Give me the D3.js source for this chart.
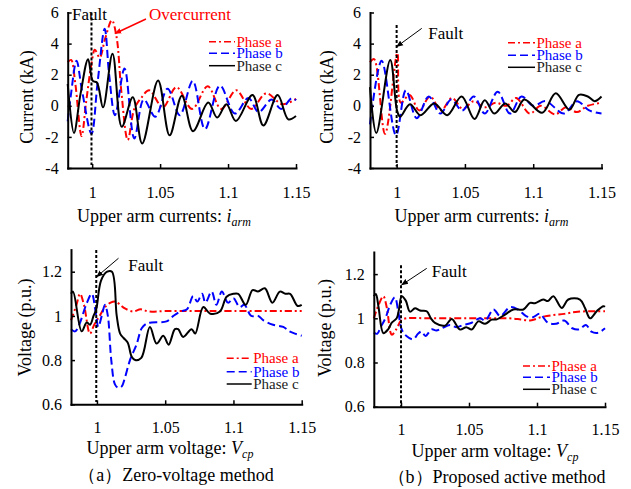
<!DOCTYPE html>
<html>
<head>
<meta charset="utf-8">
<script src="https://cdn.jsdelivr.net/npm/d3@7"></script>
<style>
body { margin: 0; background: #fff; }
svg { font-family: "Liberation Serif", "Times New Roman", serif; }
</style>
</head>
<body>
<div class="chart"></div>
<script>
// ticks
const timeTicks = [1, 1.05, 1.1, 1.15];
const currentTicks = [-4, -2, 0, 2, 4, 6];
const voltageTicks = [0.6, 0.8, 1, 1.2];
const phaseNames = ['Phase a', 'Phase b', 'Phase c'];

// (a) zero-voltage method, upper arm currents [time s, kA]
const zvCurA = [[0.982,2.8],[0.9845,2.95],[0.9875,1.5],[0.9922,-1.95],[0.9955,0.2],[0.9995,2.7],[1.002,3.6],[1.0055,3.1],[1.0095,4.3],[1.0145,5.5],[1.018,4.4],[1.0215,0.9],[1.0262,-2.2],[1.031,-0.2],[1.036,0.5],[1.042,1.0],[1.052,-0.1],[1.062,1.2],[1.0735,-0.2],[1.085,1.25],[1.095,-0.2],[1.106,1.0],[1.117,-0.2],[1.128,0.8],[1.14,0.1],[1.15,0.45]];
const zvCurB = [[0.982,-1.0],[0.9845,0.8],[0.9885,2.9],[0.9925,1.0],[0.9995,-1.8],[1.004,1.5],[1.0092,4.95],[1.0125,2.0],[1.0168,-0.6],[1.0238,2.4],[1.031,-2.1],[1.038,0.4],[1.0465,-0.7],[1.0555,1.1],[1.0645,-0.6],[1.074,1.6],[1.083,-1.5],[1.094,1.3],[1.105,-0.5],[1.115,0.5],[1.1225,-0.4],[1.132,0.4],[1.139,-0.2],[1.147,0.5],[1.15,0.35]];
const zvCurC = [[0.982,1.4],[0.9866,-1.75],[0.9915,0.8],[0.997,3.0],[1.0005,1.6],[1.0035,1.5],[1.008,-0.1],[1.015,3.35],[1.0218,-1.35],[1.0299,0.55],[1.0368,-2.42],[1.0485,1.62],[1.057,-1.9],[1.066,0.65],[1.0742,-1.63],[1.0854,0.21],[1.092,-0.76],[1.0988,0.1],[1.1058,-0.98],[1.118,0.69],[1.126,-1.26],[1.1365,0.69],[1.1443,-0.87],[1.15,-0.66]];

// (b) proposed active method, upper arm currents
const pmCurA = [[0.9805,2.8],[0.9835,3.0],[0.9915,-1.8],[1.0005,3.4],[1.003,0.2],[1.0095,0.7],[1.0165,-0.3],[1.0245,0.6],[1.0325,-0.3],[1.0405,0.5],[1.0485,-0.2],[1.0565,0.3],[1.0645,-0.1],[1.0725,0.2],[1.0805,0.0],[1.0875,0.5],[1.0975,-0.5],[1.1055,0.0],[1.116,-0.55],[1.124,-0.1],[1.132,-0.4],[1.14,0.0],[1.15,0.2]];
const pmCurB = [[0.9805,-1.2],[0.989,2.9],[0.9995,-1.9],[1.0068,1.0],[1.0147,-0.8],[1.0235,0.6],[1.032,-0.5],[1.04,0.4],[1.048,-0.3],[1.0565,0.6],[1.0645,-0.5],[1.074,0.9],[1.083,-0.5],[1.0915,0.6],[1.1,0.0],[1.109,0.3],[1.1225,-0.5],[1.132,0.3],[1.141,-0.3],[1.15,-0.5]];
const pmCurC = [[0.9805,1.2],[0.9851,-1.75],[0.9953,2.95],[1.0003,-0.3],[1.0025,-0.7],[1.0098,0.1],[1.0175,-0.6],[1.0275,0.15],[1.037,-0.6],[1.0476,0.6],[1.057,-0.85],[1.0645,0.35],[1.0715,-0.5],[1.0795,0.15],[1.0866,-0.4],[1.0935,0.4],[1.1065,-0.45],[1.1165,0.8],[1.1265,-0.25],[1.1335,0.7],[1.14,0.6],[1.145,0.3],[1.15,0.6]];

// (a) zero-voltage method, upper arm voltage [time s, p.u.]
const zvVolA = [[0.981,0.98],[0.985,1.05],[0.9876,1.1],[0.9905,1.05],[0.9949,0.92],[0.998,0.96],[1.002,1.0],[1.006,1.04],[1.01,1.06],[1.0135,1.065],[1.017,1.05],[1.0205,1.034],[1.0266,1.02],[1.032,1.03],[1.038,1.02],[1.05,1.022],[1.07,1.022],[1.1,1.022],[1.15,1.022]];
const zvVolB = [[0.981,0.94],[0.984,0.93],[0.987,0.96],[0.9925,1.057],[0.9962,1.1],[0.999,1.02],[1.001,0.95],[1.0035,1.0],[1.0059,1.05],[1.008,1.0],[1.0105,0.8],[1.0132,0.69],[1.0155,0.675],[1.018,0.68],[1.0205,0.72],[1.0242,0.8],[1.029,0.87],[1.0328,0.944],[1.0364,0.965],[1.04,0.97],[1.051,0.975],[1.056,1.0],[1.061,1.02],[1.066,1.03],[1.0705,1.09],[1.0735,1.065],[1.077,1.1],[1.0795,1.06],[1.084,1.11],[1.0875,1.05],[1.0915,1.11],[1.096,1.06],[1.1,1.08],[1.1045,1.04],[1.108,1.05],[1.113,1.0],[1.118,1.0],[1.122,0.98],[1.129,0.96],[1.1365,0.95],[1.141,0.93],[1.145,0.92],[1.15,0.91]];
const zvVolC = [[0.981,1.1],[0.9825,1.11],[0.9888,0.93],[0.9925,0.97],[0.995,0.96],[0.9975,1.0],[0.9995,1.03],[1.003,1.16],[1.0075,1.2],[1.011,1.2],[1.0145,1.0],[1.017,0.92],[1.0195,0.9],[1.0225,0.88],[1.0255,0.815],[1.028,0.8],[1.0325,0.81],[1.0388,0.95],[1.0437,0.875],[1.0486,0.91],[1.0525,0.87],[1.0571,0.94],[1.0595,0.94],[1.0632,0.905],[1.0693,0.94],[1.072,0.92],[1.0779,1.04],[1.083,1.01],[1.0901,1.02],[1.095,1.087],[1.1,1.1],[1.1035,1.1],[1.109,1.05],[1.114,1.117],[1.118,1.11],[1.123,1.125],[1.1285,1.06],[1.134,1.11],[1.138,1.1],[1.1415,1.1],[1.147,1.045],[1.15,1.05]];

// (b) proposed active method, upper arm voltage
const pmVolA = [[0.98,1.0],[0.9835,1.06],[0.987,1.1],[0.9895,1.05],[0.9932,0.926],[0.9965,0.95],[1.0,0.99],[1.004,1.0],[1.02,1.0],[1.04,1.0],[1.06,1.0],[1.08,1.0],[1.088,0.995],[1.095,0.99],[1.103,1.005],[1.112,1.015],[1.12,1.02],[1.13,1.03],[1.15,1.032]];
const pmVolB = [[0.98,0.935],[0.9825,0.93],[0.985,0.96],[0.9885,1.0],[0.992,1.06],[0.9955,1.095],[0.998,1.03],[1.0005,0.95],[1.004,0.92],[1.009,0.905],[1.0125,0.93],[1.0152,0.94],[1.018,0.92],[1.0225,0.95],[1.026,0.945],[1.03,0.955],[1.036,0.97],[1.0405,0.96],[1.046,0.97],[1.052,0.98],[1.058,1.0],[1.062,0.99],[1.068,1.04],[1.073,1.01],[1.08,1.05],[1.086,1.04],[1.092,1.01],[1.097,1.005],[1.102,1.02],[1.108,0.98],[1.114,0.975],[1.12,0.99],[1.126,0.955],[1.131,0.95],[1.136,0.97],[1.14,0.94],[1.145,0.935],[1.15,0.955]];
const pmVolC = [[0.98,1.1],[0.9815,1.11],[0.9835,1.05],[0.987,0.933],[0.9905,0.95],[0.9932,0.98],[0.9968,1.0],[0.9985,1.04],[1.0005,1.1],[1.0035,1.08],[1.0066,1.03],[1.0103,1.045],[1.014,1.035],[1.0189,1.032],[1.022,1.0],[1.025,0.979],[1.0324,0.967],[1.0373,0.997],[1.0434,0.949],[1.048,0.96],[1.052,0.949],[1.0569,0.986],[1.0618,0.975],[1.0667,0.994],[1.0704,0.995],[1.0765,1.017],[1.0826,1.04],[1.09,1.04],[1.0949,1.07],[1.0985,1.068],[1.1046,1.085],[1.108,1.078],[1.112,1.1],[1.1182,1.047],[1.123,1.085],[1.1316,1.085],[1.1353,1.047],[1.139,1.0],[1.1439,1.032],[1.1488,1.055],[1.15,1.052]];

const colors = ['#ff0000', '#0000ff', '#000000'];
const textColors = ['#ff0000', '#0000ff', '#222222'];
const dashes = ['7,3,2,3', '8,4', null];

const svg = d3.select('.chart').append('svg')
    .attr('width', 631)
    .attr('height', 489);

// layout of the four panels
const panels = [
  { series: [zvCurA, zvCurB, zvCurC], xr: [67.7, 296], xd: [0.982, 1.15], yr: [168, 12.5], yd: [-4, 6],
    yticks: currentTicks, ylabel: 'Current (kA)', ylx: 33, yly: 97, tpad: 19,
    xlabel: ['Upper arm currents: ', 'i', 'arm'], xlx: 164, xly: 222,
    legend: { x0: 209, x1: 235, ty: [41.7, 53.3, 65.7] },
    fault: { t: 0.9995, v0: 6, v1: -3.8 },
    notes: [{ text: 'Fault', t: 0.9852, v: 5.54, color: '#000' },
            { text: 'Overcurrent', t: 1.0418, v: 5.54, color: '#ff0000' }],
    arrows: [{ from: [1.0396, 5.58], to: [1.0168, 4.65], color: '#ff0000', w: 1.5 }] },
  { series: [pmCurA, pmCurB, pmCurC], xr: [370, 601.5], xd: [0.9805, 1.15], yr: [168, 12.5], yd: [-4, 6],
    yticks: currentTicks, ylabel: 'Current (kA)', ylx: 333, yly: 97, tpad: 19,
    xlabel: ['Upper arm currents: ', 'i', 'arm'], xlx: 481.5, xly: 222,
    legend: { x0: 508, x1: 535, ty: [42.7, 55.3, 67.3] },
    fault: { t: 1.0, v0: 5.2, v1: -3.9 },
    notes: [{ text: 'Fault', t: 1.0232, v: 4.3, color: '#000' }],
    arrows: [{ from: [1.0184, 4.98], to: [1.0, 3.8], color: '#000', w: 1 }] },
  { series: [zvVolA, zvVolB, zvVolC], xr: [71, 301.7], xd: [0.981, 1.15], yr: [404.3, 249.6], yd: [0.6, 1.3],
    yticks: voltageTicks, ylabel: 'Voltage (p.u.)', ylx: 31, yly: 327.5, tpad: 17,
    xlabel: ['Upper arm voltage: ', 'V', 'cp'], xlx: 170, xly: 454,
    legend: { x0: 226.7, x1: 251.7, ty: [358.3, 371.7, 384] },
    fault: { t: 0.9995, v0: 1.298, v1: 0.61 },
    notes: [{ text: 'Fault', t: 1.023, v: 1.205, color: '#000' }],
    arrows: [{ from: [1.0158, 1.261], to: [0.9998, 1.177], color: '#000', w: 1 }],
    caption: '（a）Zero-voltage method', cx: 176, cy: 481 },
  { series: [pmVolA, pmVolB, pmVolC], xr: [373.8, 605], xd: [0.98, 1.15], yr: [406.7, 252], yd: [0.6, 1.3],
    yticks: voltageTicks, ylabel: 'Voltage (p.u.)', ylx: 331, yly: 328, tpad: 17,
    xlabel: ['Upper arm voltage: ', 'V', 'cp'], xlx: 495, xly: 457,
    legend: { x0: 523, x1: 550, ty: [366, 377.3, 389.3] },
    fault: { t: 1.0, v0: 1.24, v1: 0.6 },
    notes: [{ text: 'Fault', t: 1.0226, v: 1.187, color: '#000' }],
    arrows: [{ from: [1.0189, 1.226], to: [1.0005, 1.151], color: '#000', w: 1 }],
    caption: '（b）Proposed active method', cx: 496.5, cy: 483 }
];

const defs = svg.append('defs');
['#000', '#ff0000'].forEach((c, i) => {
  defs.append('marker')
    .attr('id', 'head' + i)
    .attr('viewBox', '0 0 10 10')
    .attr('refX', 9).attr('refY', 5)
    .attr('markerWidth', 7).attr('markerHeight', 7)
    .attr('markerUnits', 'userSpaceOnUse')
    .attr('orient', 'auto')
    .append('path')
    .attr('d', 'M0,1 L10,5 L0,9 z')
    .attr('fill', c);
});

panels.forEach(p => {
  const x = d3.scaleLinear().domain(p.xd).range(p.xr);
  const y = d3.scaleLinear().domain(p.yd).range(p.yr);
  const g = svg.append('g');

  const line = d3.line()
    .x(d => x(d[0]))
    .y(d => y(d[1]))
    .curve(d3.curveCatmullRom.alpha(0.5));

  p.series.forEach((s, i) => {
    g.append('path')
      .datum(s)
      .attr('d', line)
      .attr('fill', 'none')
      .attr('stroke', colors[i])
      .attr('stroke-width', 2)
      .attr('stroke-dasharray', dashes[i]);
  });

  // fault instant
  g.append('line')
    .attr('x1', x(p.fault.t)).attr('x2', x(p.fault.t))
    .attr('y1', y(p.fault.v0)).attr('y2', y(p.fault.v1))
    .attr('stroke', '#000')
    .attr('stroke-width', 2)
    .attr('stroke-dasharray', '3,2');

  const xAxis = g.append('g')
    .attr('transform', `translate(0,${p.yr[0]})`)
    .call(d3.axisBottom(x).tickValues(timeTicks).tickFormat(d => String(d))
      .tickSizeInner(-4).tickSizeOuter(0).tickPadding(p.tpad));
  const yAxis = g.append('g')
    .attr('transform', `translate(${p.xr[0]},0)`)
    .call(d3.axisLeft(y).tickValues(p.yticks).tickFormat(d => String(d))
      .tickSizeInner(-4).tickSizeOuter(0).tickPadding(9));
  [xAxis, yAxis].forEach(a => {
    a.attr('font-family', null).attr('font-size', 16);
    a.select('.domain').attr('stroke-width', 2).attr('stroke-linecap', 'square');
    a.selectAll('.tick line').attr('stroke-width', 1.5);
    a.selectAll('.tick text').attr('fill', '#000');
  });

  // axis titles
  const xt = g.append('text')
    .attr('x', p.xlx).attr('y', p.xly)
    .attr('text-anchor', 'middle')
    .attr('font-size', 18);
  xt.append('tspan').text(p.xlabel[0]);
  xt.append('tspan').attr('font-style', 'italic').text(p.xlabel[1]);
  xt.append('tspan').attr('font-style', 'italic').attr('font-size', 12).attr('dy', 4).text(p.xlabel[2]);

  g.append('text')
    .attr('transform', `translate(${p.ylx},${p.yly}) rotate(-90)`)
    .attr('text-anchor', 'middle')
    .attr('font-size', 18)
    .text(p.ylabel);

  // legend
  phaseNames.forEach((n, i) => {
    const ly = p.legend.ty[i];
    g.append('line')
      .attr('x1', p.legend.x0).attr('x2', p.legend.x1)
      .attr('y1', ly).attr('y2', ly)
      .attr('stroke', colors[i])
      .attr('stroke-width', 1.5)
      .attr('stroke-dasharray', dashes[i]);
    g.append('text')
      .attr('x', p.legend.x1 + 1.5).attr('y', ly + 5)
      .attr('font-size', 15)
      .attr('fill', textColors[i])
      .text(n);
  });

  // annotations
  p.notes.forEach(n => {
    g.append('text')
      .attr('x', x(n.t)).attr('y', y(n.v))
      .attr('font-size', 17)
      .attr('fill', n.color)
      .text(n.text);
  });
  p.arrows.forEach(a => {
    g.append('line')
      .attr('x1', x(a.from[0])).attr('y1', y(a.from[1]))
      .attr('x2', x(a.to[0])).attr('y2', y(a.to[1]))
      .attr('stroke', a.color)
      .attr('stroke-width', a.w)
      .attr('marker-end', a.color === '#000' ? 'url(#head0)' : 'url(#head1)');
  });

  if (p.caption) {
    g.append('text')
      .attr('x', p.cx).attr('y', p.cy)
      .attr('text-anchor', 'middle')
      .attr('font-size', 18)
      .text(p.caption);
  }
});
</script>
</body>
</html>
